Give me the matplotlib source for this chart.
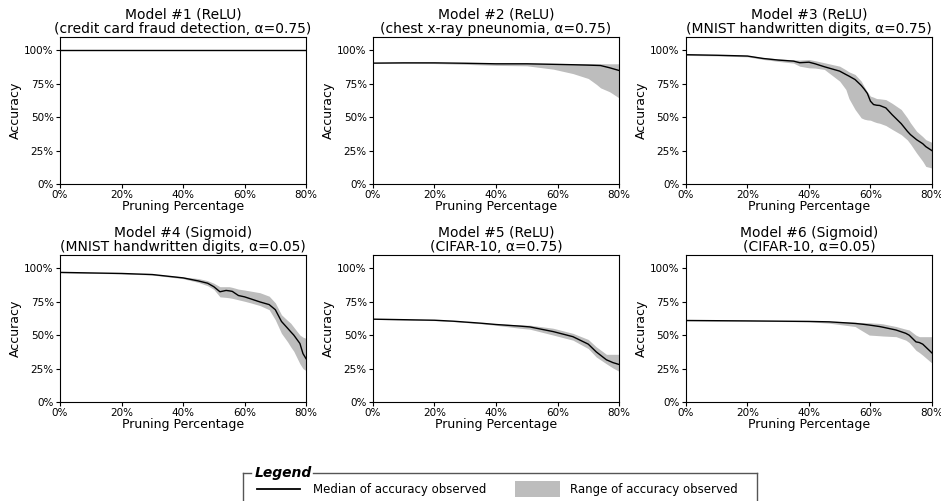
import numpy as np
import matplotlib
matplotlib.use("Agg")
import matplotlib.pyplot as plt
from matplotlib.ticker import FuncFormatter
from matplotlib.lines import Line2D
from matplotlib.patches import Rectangle

# --------------------------------
# DATA (pruning %, accuracy %)
# --------------------------------
titles = [
    "Model #1 (ReLU)\n(credit card fraud detection, \u03b1=0.75)",
    "Model #2 (ReLU)\n(chest x-ray pneunomia, \u03b1=0.75)",
    "Model #3 (ReLU)\n(MNIST handwritten digits, \u03b1=0.75)",
    "Model #4 (Sigmoid)\n(MNIST handwritten digits, \u03b1=0.05)",
    "Model #5 (ReLU)\n(CIFAR-10, \u03b1=0.75)",
    "Model #6 (Sigmoid)\n(CIFAR-10, \u03b1=0.05)",
]

# Model 1
x1 = [0, 80]
med1 = [100, 100]
lo1 = [100, 100]
hi1 = [100, 100]

# Model 2
x2 = [0, 10, 20, 30, 40, 50, 58.6, 65, 70, 72.7, 74, 77, 80]
med2 = [90.5, 90.7, 90.7, 90.4, 90.0, 90.0, 89.6, 89.3, 89.0, 88.8, 88.7, 87.0, 85.0]
lo2 = [90.3, 90.4, 90.2, 89.6, 88.8, 88.5, 86.0, 82.7, 79.0, 74.5, 72.0, 69.0, 64.5]
hi2 = [90.7, 90.9, 90.9, 90.6, 90.3, 90.4, 90.3, 90.2, 90.2, 90.1, 90.1, 90.0, 90.0]

# Model 3
x3 = [0, 10, 20, 25, 30, 35, 37, 40, 42, 45, 50, 52, 53, 55, 57, 58, 59, 60,
      61, 62, 63, 65, 67, 70, 72, 73, 75, 77, 78, 80]
med3 = [96.8, 96.4, 95.8, 94.0, 92.8, 92.0, 90.8, 91.2, 90.0, 87.8, 84.5, 82.0,
        80.8, 78.2, 73.8, 71.0, 67.8, 62.0, 59.5, 59.0, 58.8, 57.0, 52.0, 45.2,
        39.5, 37.0, 33.2, 30.2, 28.0, 25.0]
lo3 = [96.3, 95.9, 95.2, 93.3, 91.8, 90.5, 88.2, 87.0, 86.8, 85.8, 77.0, 70.8,
       64.0, 55.8, 49.5, 48.5, 48.0, 47.8, 46.8, 46.0, 45.5, 43.8, 41.0, 37.0,
       33.0, 30.0, 23.2, 17.0, 13.2, 12.0]
hi3 = [97.2, 96.9, 96.3, 94.8, 93.7, 93.0, 92.8, 93.2, 92.3, 90.8, 88.2, 85.5,
       84.0, 82.0, 77.0, 72.8, 69.0, 65.8, 65.0, 64.0, 63.8, 63.2, 60.5, 55.8,
       49.5, 45.8, 39.5, 35.5, 33.2, 31.2]

# Model 4
x4 = [0, 20, 30, 40, 45, 48, 50, 52, 54, 55, 56, 58, 60, 62, 65, 68, 70, 72,
      74, 75, 76, 78, 79, 80]
med4 = [97.0, 96.2, 95.4, 92.9, 90.6, 88.9, 86.3, 82.5, 83.5, 83.2, 82.8, 79.7,
        78.7, 77.2, 74.9, 72.9, 69.1, 60.3, 55.2, 52.6, 50.1, 43.8, 36.2, 32.4]
lo4 = [96.7, 95.9, 95.0, 92.3, 89.5, 87.0, 84.3, 78.7, 78.3, 78.0, 77.6, 76.5,
       75.4, 74.2, 72.2, 69.1, 61.5, 51.4, 45.0, 41.3, 38.0, 28.6, 25.0, 23.5]
hi4 = [97.3, 96.5, 95.8, 93.6, 92.4, 90.8, 88.9, 86.3, 86.3, 86.3, 85.8, 84.5,
       83.8, 83.0, 81.8, 79.2, 74.2, 65.3, 61.0, 59.0, 56.0, 50.1, 48.5, 47.6]

# Model 5
x5 = [0, 20, 26, 35, 40, 47.8, 51, 58.6, 65, 70, 72.6, 75.9, 78, 80]
med5 = [62.0, 61.2, 60.5, 59.0, 58.0, 56.8, 56.2, 52.7, 48.9, 43.3, 37.5, 31.6,
        29.5, 28.1]
lo5 = [61.8, 60.9, 60.2, 58.6, 57.4, 55.2, 54.5, 50.1, 46.3, 40.0, 33.7, 28.6,
       25.5, 23.0]
hi5 = [62.2, 61.5, 60.8, 59.4, 58.6, 57.7, 57.5, 55.2, 51.4, 46.8, 41.3, 35.7,
       35.7, 35.7]

# Model 6
x6 = [0, 20, 40, 46.6, 55, 57.5, 59.6, 62.9, 64, 68.3, 71.5, 72.6, 74.8, 75.9,
      77, 80]
med6 = [61.0, 60.7, 60.3, 60.0, 58.8, 58.2, 57.6, 56.5, 56.0, 53.9, 51.4, 50.0,
        45.0, 44.5, 43.3, 36.7]
lo6 = [60.8, 60.5, 60.0, 59.0, 56.5, 53.0, 50.1, 49.6, 49.4, 48.9, 46.3, 44.5,
       38.7, 37.0, 35.0, 29.1]
hi6 = [61.2, 61.0, 60.6, 60.3, 59.7, 59.5, 59.3, 58.8, 58.5, 56.5, 54.5, 53.9,
       50.0, 48.9, 48.9, 48.9]

xs = [x1, x2, x3, x4, x5, x6]
meds = [med1, med2, med3, med4, med5, med6]
los = [lo1, lo2, lo3, lo4, lo5, lo6]
his = [hi1, hi2, hi3, hi4, hi5, hi6]

x_ticks = [0, 20, 40, 60, 80]
y_ticks = [0, 25, 50, 75, 100]

band_color = "#bdbdbd"

# --------------------------------
# PLOTTING
# --------------------------------
fig, axes = plt.subplots(2, 3, figsize=(9.41, 5.01), dpi=100)
fig.subplots_adjust(left=0.0638, right=0.9904, top=0.926, bottom=0.1976,
                    wspace=0.272, hspace=0.483)

pct = FuncFormatter(lambda v, pos: "%d%%" % v)

for i, ax in enumerate(axes.flat):
    ax.fill_between(xs[i], los[i], his[i], color=band_color, linewidth=0)
    ax.plot(xs[i], meds[i], color="black", linewidth=1.0)
    ax.set_xlim(0, 80)
    ax.set_ylim(0, 110)
    ax.set_xticks(x_ticks)
    ax.set_yticks(y_ticks)
    ax.xaxis.set_major_formatter(pct)
    ax.yaxis.set_major_formatter(pct)
    ax.tick_params(labelsize=7.5, length=3, pad=1.5)
    ax.set_title(titles[i], fontsize=10, pad=3, linespacing=1.0)
    ax.set_xlabel("Pruning Percentage", fontsize=9, labelpad=0)
    ax.set_ylabel("Accuracy", fontsize=9, labelpad=2)

# --------------------------------
# LEGEND (fieldset style box)
# --------------------------------
W, H = 941.0, 501.0
def fx(px):
    return px / W
def fy(py):
    return 1 - py / H

edge = "#555555"
fig.add_artist(Line2D([fx(243), fx(243)], [fy(473), fy(505)], color=edge,
                      linewidth=1.0, transform=fig.transFigure))
fig.add_artist(Line2D([fx(757), fx(757)], [fy(473), fy(505)], color=edge,
                      linewidth=1.0, transform=fig.transFigure))
fig.add_artist(Line2D([fx(243), fx(251)], [fy(473), fy(473)], color=edge,
                      linewidth=1.0, transform=fig.transFigure))
fig.add_artist(Line2D([fx(313), fx(757)], [fy(473), fy(473)], color=edge,
                      linewidth=1.0, transform=fig.transFigure))
fig.text(fx(255), fy(473), "Legend", fontsize=10, fontweight="bold",
         fontstyle="italic", va="center", ha="left")

fig.add_artist(Line2D([fx(257), fx(300)], [fy(489), fy(489)], color="black",
                      linewidth=1.3, transform=fig.transFigure))
fig.text(fx(313), fy(489), "Median of accuracy observed", fontsize=8.5,
         va="center", ha="left")
fig.add_artist(Rectangle((fx(515), fy(497)), fx(560) - fx(515), fy(481) - fy(497),
                         facecolor=band_color, edgecolor="none",
                         transform=fig.transFigure))
fig.text(fx(570), fy(489), "Range of accuracy observed", fontsize=8.5,
         va="center", ha="left")

plt.savefig("out.png", dpi=100)
